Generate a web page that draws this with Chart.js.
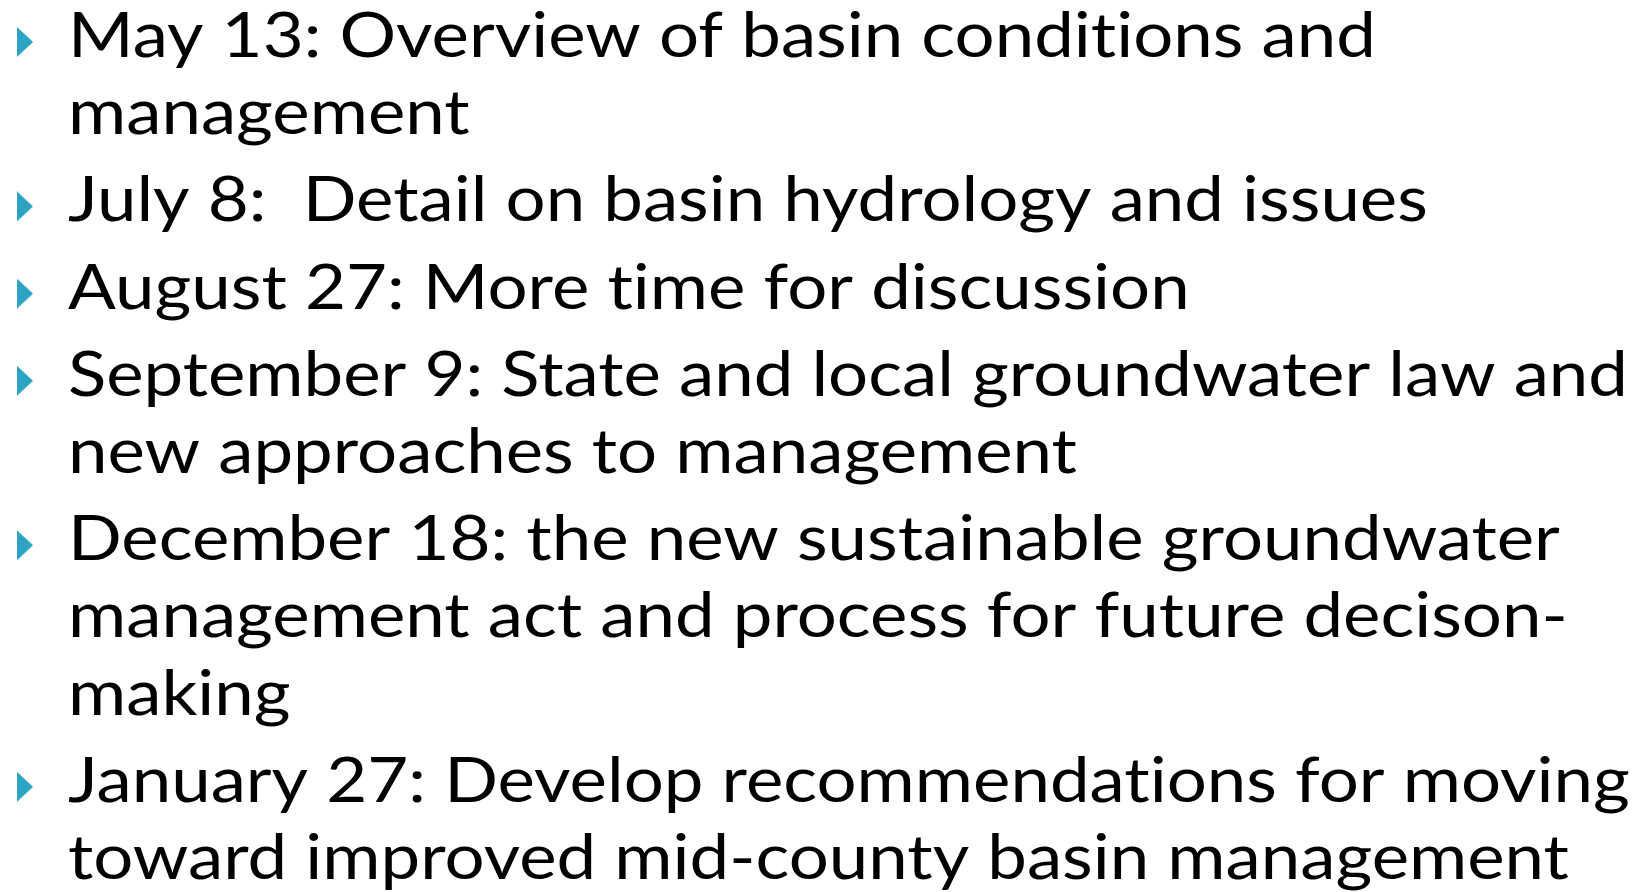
<!DOCTYPE html>
<html>
<head>
<meta charset="utf-8">
<script src="https://cdn.jsdelivr.net/npm/chart.js@4"></script>
<style>
  html, body { margin: 0; padding: 0; background: #fff; overflow: hidden; }
  canvas { display: block; }
</style>
</head>
<body>
<canvas id="slide" width="1642" height="892"></canvas>
<script>
// Bullet items, one array of wrapped lines per bullet
const may13 = ["May 13: Overview of basin conditions and", "management"];
const july8 = ["July 8:  Detail on basin hydrology and issues"];
const aug27 = ["August 27: More time for discussion"];
const sep9 = ["September 9: State and local groundwater law and", "new approaches to management"];
const dec18 = ["December 18: the new sustainable groundwater", "management act and process for future decison-", "making"];
const jan27 = ["January 27: Develop recommendations for moving", "toward improved mid-county basin management"];
const bulletItems = [may13, july8, aug27, sep9, dec18, jan27];

// layout (pixels)
const firstBaseline = 57;
const lineStep = 77.2;
const bulletGap = 10;
const textX = 68;
const bulletX = 25;
const fontPx = 61;
const longestWidth = 1560; // width of the "September 9" line in the slide

// work out where every line sits
const lines = [];
const bulletPoints = [];
let lineIdx = 0;
bulletItems.forEach((item, b) => {
  item.forEach((txt, i) => {
    const y = firstBaseline + lineIdx * lineStep + b * bulletGap;
    lines.push({ text: txt, y: y });
    if (i === 0) bulletPoints.push({ x: bulletX, y: y - 15 });
    lineIdx++;
  });
});

// teal arrow bullet
const arrow = document.createElement("canvas");
arrow.width = 16;
arrow.height = 30;
const actx = arrow.getContext("2d");
actx.fillStyle = "#2ca3c2";
actx.beginPath();
actx.moveTo(0, 0);
actx.lineTo(16, 15);
actx.lineTo(0, 30);
actx.closePath();
actx.fill();

// break the "ti" ligature Lato would draw
const noLig = (s) => s.replace(/t(?=i)/g, "t\u200C");

const textPlugin = {
  id: "bulletText",
  afterDatasetsDraw(chart) {
    const ctx = chart.ctx;
    const xs = chart.scales.x, ys = chart.scales.y;
    ctx.save();
    ctx.font = fontPx + "px Lato";
    ctx.fillStyle = "#000";
    ctx.textBaseline = "alphabetic";
    ctx.textAlign = "left";
    const sx = longestWidth / ctx.measureText(sep9[0]).width;
    lines.forEach((l) => {
      ctx.save();
      ctx.translate(xs.getPixelForValue(textX), ys.getPixelForValue(l.y));
      ctx.scale(sx, 1);
      ctx.fillText(noLig(l.text), 0, 0);
      ctx.restore();
    });
    ctx.restore();
  },
};

new Chart(document.getElementById("slide").getContext("2d"), {
  type: "scatter",
  data: {
    datasets: [
      {
        data: bulletPoints,
        pointStyle: arrow,
        pointRadius: 8,
        pointHoverRadius: 8,
      },
    ],
  },
  options: {
    responsive: false,
    animation: false,
    events: [],
    layout: { padding: 0, autoPadding: false },
    scales: {
      x: { type: "linear", min: 0, max: 1642, display: false },
      y: { type: "linear", min: 0, max: 892, reverse: true, display: false },
    },
    plugins: {
      legend: { display: false },
      tooltip: { enabled: false },
    },
  },
  plugins: [textPlugin],
});
</script>
</body>
</html>
